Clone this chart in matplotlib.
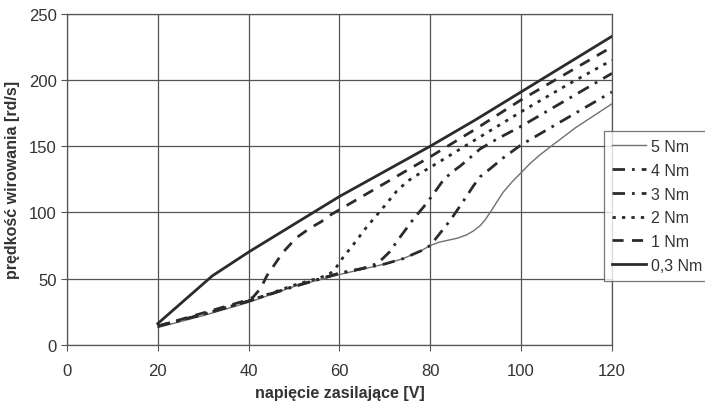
import matplotlib
matplotlib.use('Agg')  # Non-interactive backend

import matplotlib.pyplot as plt
import numpy as np

plt.rcParams['font.family'] = ['Liberation Sans', 'DejaVu Sans']

# napiecie zasilajace [V] -> predkosc wirowania [rd/s]
x_03 = [20, 26, 32, 40, 50, 60, 70, 80, 90, 100, 110, 120]
y_03 = [16, 34, 52, 70, 91, 112, 131, 150, 170, 191, 212, 233]

x_1 = [20, 25, 30, 35, 40, 41, 42, 43, 44, 46, 47.6, 49.5, 51, 53.5, 56, 58, 60,
       70, 80, 90, 100, 110, 120]
y_1 = [14, 19, 24, 29, 34, 36, 40, 45, 52, 62, 70, 77, 82, 88, 93, 98, 102,
       122, 142, 163, 185, 205, 225]

x_2 = [20, 30, 40, 50, 56, 58, 59, 60, 61, 62.7, 66, 69, 72.6, 74.5, 76, 78, 80,
       90, 100, 110, 120]
y_2 = [14, 23, 33, 45, 51, 54, 57, 62, 67, 74, 89, 101, 116, 122, 126, 130, 134,
       155, 176, 196, 215]

x_3 = [20, 30, 40, 50, 60, 65, 68, 69.5, 71, 73.5, 76.3, 78.5, 80.3, 83, 85,
       86.6, 89, 91, 95, 100, 110, 120]
y_3 = [14, 23, 33, 44, 54, 57.5, 61, 65, 70, 82, 95, 104, 112, 125, 131,
       135, 142, 148, 156, 165, 185, 205]

x_4 = [20, 30, 40, 50, 60, 65, 70, 74, 78, 80, 81.4, 84.4, 86.6, 89.5, 91, 93.2,
       96, 100, 110, 120]
y_4 = [14, 23, 33, 44, 54, 57.5, 61, 65, 71, 75, 81, 94, 105, 120, 127, 133,
       141, 151, 171, 191]

x_5 = [20, 30, 40, 50, 60, 65, 70, 74, 78, 80, 82, 84, 86, 88, 89.5, 91, 92,
       93.2, 94.5, 96, 98, 100, 102, 104, 107, 112, 116, 120]
y_5 = [13, 22, 32, 44, 53, 57, 61, 65, 71, 75, 77.5, 79, 80.5, 83, 86, 90, 94,
       100, 107, 115, 123, 130, 137, 143, 151, 164, 173, 182]

x_ticks = [0, 20, 40, 60, 80, 100, 120]
y_ticks = [0, 50, 100, 150, 200, 250]

DPI = 100
fig = plt.figure(figsize=(7.05, 4.06), dpi=DPI)
ax = fig.add_axes([0.095, 0.1485, 0.773, 0.815])

dark = '#2b2b2b'
ax.plot(x_5, y_5, color='#707070', lw=1.0, label='5 Nm')
ax.plot(x_4, y_4, color=dark, lw=2.0, dashes=(4.5, 2.5, 1, 2.5), label='4 Nm')
ax.plot(x_3, y_3, color=dark, lw=2.0, dashes=(4.5, 2.5, 1, 2.5), label='3 Nm')
ax.plot(x_2, y_2, color=dark, lw=2.0, dashes=(1.2, 2.2), label='2 Nm')
ax.plot(x_1, y_1, color=dark, lw=2.0, dashes=(4, 3), label='1 Nm')
ax.plot(x_03, y_03, color=dark, lw=2.0, label='0,3 Nm')

ax.set_xlim(0, 120)
ax.set_ylim(0, 250)
ax.set_xticks(x_ticks)
ax.set_yticks(y_ticks)
ax.grid(True, color='#555555', lw=0.9)
ax.set_axisbelow(True)
for s in ax.spines.values():
    s.set_color('#555555')
    s.set_linewidth(0.9)
ax.tick_params(direction='out', length=4, color='#555555', labelsize=12,
               labelcolor='#333333')
ax.tick_params(axis='x', pad=9)

ax.set_xlabel('napięcie zasilające [V]', fontsize=11.5, fontweight='bold',
              color='#333333', labelpad=5)
ax.set_ylabel('prędkość wirowania [rd/s]', fontsize=11.5, fontweight='bold',
              color='#333333', labelpad=6)

leg = fig.legend(loc='upper left', bbox_to_anchor=(0.857, 0.675), fontsize=11.5,
                 frameon=True, fancybox=False, handlelength=2.1,
                 labelspacing=0.55, borderpad=0.5, handletextpad=0.3,
                 borderaxespad=0)
leg.get_frame().set_edgecolor('#555555')
leg.get_frame().set_linewidth(0.9)
for t in leg.get_texts():
    t.set_color('#333333')

fig.savefig('out.png', dpi=DPI)
